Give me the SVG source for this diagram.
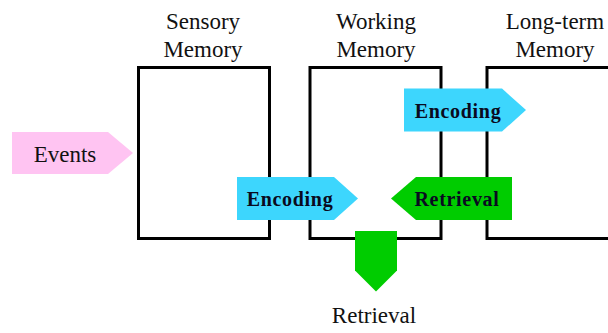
<svg xmlns="http://www.w3.org/2000/svg" width="608" height="333" viewBox="0 0 608 333">
<style>
.box{fill:#fff;stroke:#000;stroke-width:3}
.lbl{font-family:"Liberation Serif",serif;font-size:23px;fill:#111;text-anchor:middle}
.blbl{font-family:"Liberation Serif",serif;font-size:20px;font-weight:bold;fill:#0a0a20;text-anchor:middle;letter-spacing:0.7px}
.enc{fill:#3dd6fd}
.ret{fill:#00cc00}
.evt{fill:#ffc4f2}
</style>
<rect width="608" height="333" fill="#fff"/>
<g id="sensory">
<rect class="box" x="138.5" y="67.5" width="131" height="171"/>
<text class="lbl" x="203" y="29">Sensory</text>
<text class="lbl" x="203" y="57">Memory</text>
</g>
<g id="working">
<rect class="box" x="310" y="67.5" width="131" height="171"/>
<text class="lbl" x="376" y="29">Working</text>
<text class="lbl" x="376" y="57">Memory</text>
</g>
<g id="longterm">
<rect class="box" x="487" y="67.5" width="140" height="171"/>
<text class="lbl" x="555" y="29">Long-term</text>
<text class="lbl" x="555" y="57">Memory</text>
</g>
<g id="connectors">
<g id="events">
<polygon class="evt" points="12,132 108,132 133,153 108,174 12,174"/>
<text class="lbl" x="65" y="162">Events</text>
</g>
<g id="encoding1">
<polygon class="enc" points="237,177 334,177 358,198.5 334,220 237,220"/>
<text class="blbl" x="290" y="206">Encoding</text>
</g>
<g id="encoding2">
<polygon class="enc" points="404,88.5 502,88.5 526,110 502,131.5 404,131.5"/>
<text class="blbl" x="458" y="118">Encoding</text>
</g>
<g id="retrieval1">
<polygon class="ret" points="391,198.5 416,177 512,177 512,220 416,220"/>
<text class="blbl" x="457" y="206">Retrieval</text>
</g>
<g id="retrieval2">
<polygon class="ret" points="355,231 397,231 397,270.5 376,291.5 355,270.5"/>
<text class="lbl" x="374" y="323">Retrieval</text>
</g>
</g>
</svg>
